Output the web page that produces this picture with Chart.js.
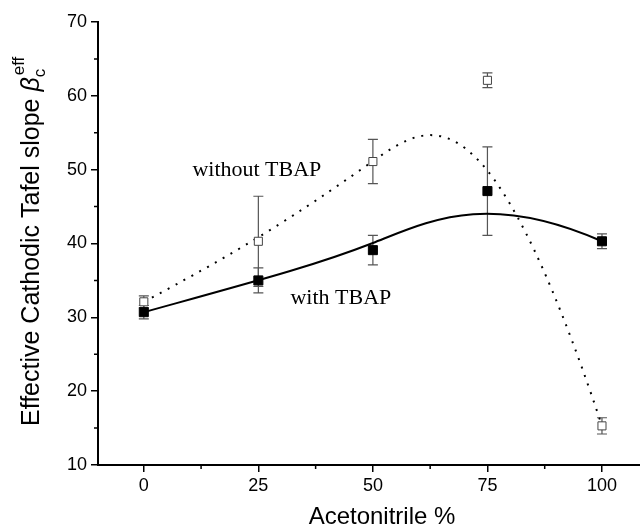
<!DOCTYPE html>
<html>
<head>
<meta charset="utf-8">
<script src="https://cdn.jsdelivr.net/npm/chart.js@4.4.0/dist/chart.umd.min.js"></script>
<style>body{margin:0;background:#fff}</style>
</head>
<body>
<canvas id="tafelChart" width="640" height="528"></canvas>
<script>
const acetonitrile = [0, 25, 50, 75, 100];
const withTBAP = [30.7, 35.0, 39.1, 47.1, 40.3];
const withTBAPErr = [0.9, 1.7, 2.0, 6.0, 1.0];
const withoutTBAP = [32.1, 40.3, 51.1, 62.1, 15.3];
const withoutTBAPErr = [0.8, 6.1, 3.0, 1.0, 1.1];
const xTicks = [0, 25, 50, 75, 100];
const xMinor = [12.5, 37.5, 62.5, 87.5];
const yTicks = [10, 20, 30, 40, 50, 60, 70];
const yMinor = [15, 25, 35, 45, 55, 65];

const toPoints = (vals) => acetonitrile.map((x, i) => ({ x: x, y: vals[i] }));

// cubic clamped B-spline with the 5 data points as control points (smooth fit like the original)
function drawSpline(chart, vals, dash, width) {
    const sx = chart.scales.x, sy = chart.scales.y;
    const P = acetonitrile.map((x, i) => [sx.getPixelForValue(x), sy.getPixelForValue(vals[i])]);
    const mid = (a, b) => [(a[0] + b[0]) / 2, (a[1] + b[1]) / 2];
    const M = [(P[1][0] + 2 * P[2][0] + P[3][0]) / 4, (P[1][1] + 2 * P[2][1] + P[3][1]) / 4];
    const q1 = mid(P[1], P[2]), q2 = mid(P[2], P[3]);
    const ctx = chart.ctx;
    ctx.save();
    ctx.beginPath();
    ctx.rect(chart.chartArea.left, chart.chartArea.top, chart.chartArea.right - chart.chartArea.left, chart.chartArea.bottom - chart.chartArea.top);
    ctx.clip();
    ctx.beginPath();
    ctx.moveTo(P[0][0], P[0][1]);
    ctx.bezierCurveTo(P[1][0], P[1][1], q1[0], q1[1], M[0], M[1]);
    ctx.bezierCurveTo(q2[0], q2[1], P[3][0], P[3][1], P[4][0], P[4][1]);
    ctx.setLineDash(dash);
    ctx.lineWidth = width;
    ctx.strokeStyle = '#000';
    ctx.stroke();
    ctx.restore();
}

function drawErrors(chart, vals, errs) {
    const sx = chart.scales.x, sy = chart.scales.y;
    const ctx = chart.ctx;
    ctx.save();
    ctx.strokeStyle = '#555';
    ctx.lineWidth = 1.2;
    acetonitrile.forEach((x, i) => {
        const px = sx.getPixelForValue(x);
        const top = sy.getPixelForValue(vals[i] + errs[i]);
        const bot = sy.getPixelForValue(vals[i] - errs[i]);
        ctx.beginPath();
        ctx.moveTo(px, top); ctx.lineTo(px, bot);
        ctx.moveTo(px - 5, top); ctx.lineTo(px + 5, top);
        ctx.moveTo(px - 5, bot); ctx.lineTo(px + 5, bot);
        ctx.stroke();
    });
    ctx.restore();
}

const extras = {
    id: 'extras',
    beforeDatasetsDraw(chart) {
        drawErrors(chart, withoutTBAP, withoutTBAPErr);
        drawErrors(chart, withTBAP, withTBAPErr);
        drawSpline(chart, withoutTBAP, [2, 7], 2);
        drawSpline(chart, withTBAP, [], 2);
    },
    afterDraw(chart) {
        const ctx = chart.ctx;
        const sx = chart.scales.x, sy = chart.scales.y;
        const area = chart.chartArea;
        ctx.save();
        // minor ticks
        ctx.strokeStyle = '#000';
        ctx.lineWidth = 1.5;
        ctx.beginPath();
        xMinor.forEach(v => {
            const p = sx.getPixelForValue(v);
            ctx.moveTo(p, area.bottom); ctx.lineTo(p, area.bottom + 4);
        });
        yMinor.forEach(v => {
            const p = sy.getPixelForValue(v);
            ctx.moveTo(area.left, p); ctx.lineTo(area.left - 4, p);
        });
        ctx.stroke();

        // annotations
        ctx.fillStyle = '#000';
        ctx.font = '22px "Liberation Serif"';
        ctx.textBaseline = 'alphabetic';
        ctx.textAlign = 'left';
        ctx.fillText('without TBAP', sx.getPixelForValue(10.6), sy.getPixelForValue(49.2));
        ctx.fillText('with TBAP', sx.getPixelForValue(32.0), sy.getPixelForValue(31.8));

        // x title
        ctx.font = '24px "Liberation Sans"';
        ctx.textAlign = 'center';
        ctx.fillText('Acetonitrile %', 382, 524);

        // y title with beta_c^eff
        ctx.translate(39, 426);
        ctx.rotate(-Math.PI / 2);
        ctx.textAlign = 'left';
        ctx.font = '25px "Liberation Sans"';
        const main = 'Effective Cathodic Tafel slope ';
        ctx.fillText(main, 0, 0);
        let cx = ctx.measureText(main).width;
        ctx.font = 'italic 25px "Liberation Sans"';
        ctx.fillText('\u03b2', cx, 0);
        cx += ctx.measureText('\u03b2').width;
        ctx.font = '17px "Liberation Sans"';
        ctx.fillText('c', cx, 6);
        ctx.fillText('eff', cx + 2, -15);
        ctx.restore();
    }
};

const ctx = document.getElementById('tafelChart').getContext('2d');
const tafelChart = new Chart(ctx, {
    type: 'scatter',
    data: {
        datasets: [{
            label: 'without TBAP',
            data: toPoints(withoutTBAP),
            showLine: false,
            pointStyle: 'rect',
            pointRadius: 5.7,
            pointBackgroundColor: '#fff',
            pointBorderColor: '#444',
            pointBorderWidth: 1
        }, {
            label: 'with TBAP',
            data: toPoints(withTBAP),
            showLine: false,
            pointStyle: 'rect',
            pointRadius: 6.4,
            pointBackgroundColor: '#000',
            pointBorderColor: '#000',
            pointBorderWidth: 1
        }]
    },
    options: {
        responsive: false,
        animation: false,
        devicePixelRatio: 1,
        layout: { autoPadding: false, padding: { top: 22, right: 0, left: 0, bottom: 0 } },
        plugins: { legend: { display: false }, tooltip: { enabled: false } },
        scales: {
            x: {
                type: 'linear',
                min: -10,
                max: 108.3,
                afterBuildTicks: (s) => { s.ticks = xTicks.map(v => ({ value: v })); },
                afterFit: (s) => { s.height = 63; },
                grid: { drawOnChartArea: false, drawTicks: true, tickLength: 7, color: '#000', tickColor: '#000', lineWidth: 1.5 },
                border: { display: true, color: '#000', width: 2 },
                ticks: { color: '#000', font: { family: 'Liberation Sans', size: 18 }, padding: 3, maxRotation: 0 }
            },
            y: {
                min: 10,
                max: 70,
                afterBuildTicks: (s) => { s.ticks = yTicks.map(v => ({ value: v })); },
                afterFit: (s) => { s.width = 98; },
                grid: { drawOnChartArea: false, drawTicks: true, tickLength: 7, color: '#000', tickColor: '#000', lineWidth: 1.5 },
                border: { display: true, color: '#000', width: 2 },
                ticks: { color: '#000', font: { family: 'Liberation Sans', size: 18 }, padding: 4 }
            }
        }
    },
    plugins: [extras]
});
</script>
</body>
</html>
